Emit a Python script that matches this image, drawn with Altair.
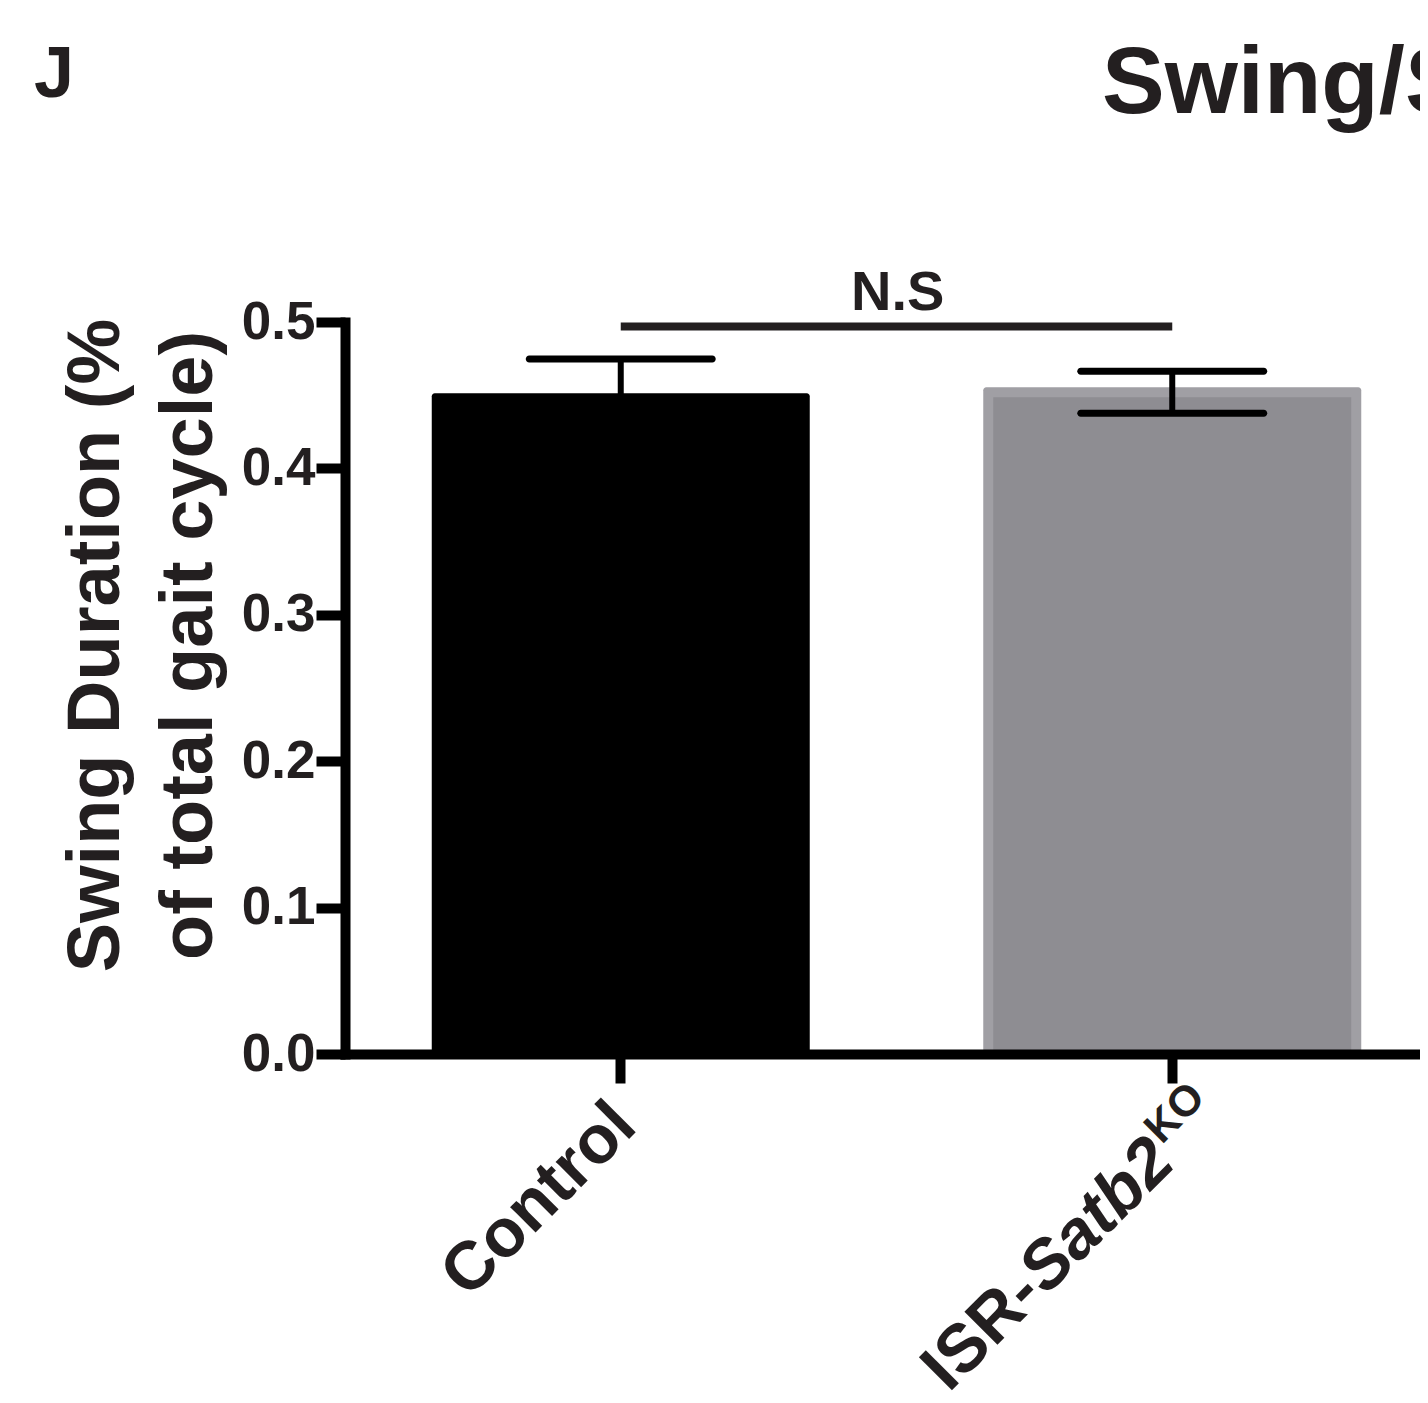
import altair as alt
import pandas as pd

# ---- data ----
groups = ["Control", "ISR-Satb2KO"]
means = [0.448, 0.452]
sems = [0.0267, 0.0143]
fills = ["#000000", "#8e8d92"]
borders = ["#000000", "#a09fa4"]

y_ticks = [0.0, 0.1, 0.2, 0.3, 0.4, 0.5]
sig_pair = ["Control", "ISR-Satb2KO"]
sig_line_y = [0.497]
sig_text_y = [0.508]
sig_label = ["N.S"]

label_control = ["Control"]
label_isr_prefix = ["ISR-"]
label_isr_gene = ["Satb2"]
label_isr_sup = ["KO"]

panel_letter = ["J"]
title_text = ["Swing/Stance"]
y_title = ["Swing Duration (%", "of total gait cycle)"]

FONT = "Liberation Sans"
TXT = "#231f20"

df = pd.DataFrame({"group": groups, "mean": means, "sem": sems,
                   "fill": fills, "border": borders})
df["lo"] = df["mean"] - df["sem"]
df["hi"] = df["mean"] + df["sem"]

sig_df = pd.DataFrame({"x1": [sig_pair[0]], "x2": [sig_pair[1]],
                       "y": sig_line_y, "ty": sig_text_y, "t": sig_label})

x_scale = alt.Scale(domain=groups, range=[0, 1103], paddingInner=0.3, paddingOuter=0.15)
y_scale = alt.Scale(domain=[0, 0.5], nice=False, zero=True)

x_axis = alt.Axis(labels=False, title="", ticks=True, tickSize=29, tickWidth=10,
                  tickColor="black", domainWidth=10, domainColor="black",
                  domainCap="square", grid=False, zindex=1)
y_axis = alt.Axis(values=y_ticks, format=".1f", labelFont=FONT, labelFontSize=53,
                  labelFontWeight="bold", labelColor=TXT, labelPadding=1,
                  tickSize=29, tickWidth=10, tickColor="black",
                  domainWidth=10, domainColor="black", domainCap="square",
                  grid=False, zindex=1,
                  title=y_title, titleFont=FONT, titleFontSize=74,
                  titleFontWeight="bold", titleColor=TXT, titleAngle=270,
                  titleX=-227, titleY=323, titleAlign="center",
                  titleBaseline="alphabetic", titleLineHeight=93)

base = alt.Chart(df)

# outer bar (border colour) and inner bar (fill colour)
bars_outer = base.mark_bar(size=378, cornerRadius=3, yOffset=-5, y2Offset=5).encode(
    x=alt.X("group:N", scale=x_scale, axis=x_axis),
    y=alt.Y("mean:Q", scale=y_scale, axis=y_axis, stack=False),
    fill=alt.Fill("border:N", scale=None),
)
bars_inner = base.mark_bar(size=358, yOffset=5).encode(
    x=alt.X("group:N"),
    y=alt.Y("mean:Q", stack=False),
    fill=alt.Fill("fill:N", scale=None),
)

stems = base.mark_rule(strokeWidth=6, color="black").encode(
    x=alt.X("group:N"), y=alt.Y("lo:Q"), y2="hi")

cap_hi = base.mark_tick(thickness=7, size=190, cornerRadius=3.5,
                        color="black", opacity=1).encode(
    x=alt.X("group:N"), y=alt.Y("hi:Q"))
cap_lo = base.mark_tick(thickness=7, size=190, cornerRadius=3.5,
                        color="black", opacity=1).encode(
    x=alt.X("group:N"), y=alt.Y("lo:Q"))

sig_line = alt.Chart(sig_df).mark_rule(strokeWidth=8, color=TXT).encode(
    x=alt.X("x1:N", bandPosition=0.5), x2="x2", y=alt.Y("y:Q"))

sig_txt = alt.Chart(sig_df).mark_text(font=FONT, fontSize=56, fontWeight="bold",
                                      color=TXT, align="center",
                                      baseline="alphabetic", dx=277).encode(
    x=alt.X("x1:N"), y=alt.Y("ty:Q"), text="t:N")

ctrl_df = pd.DataFrame({"group": [groups[0]], "t": label_control})
isr_df = pd.DataFrame({"group": [groups[1]], "a": label_isr_prefix,
                       "b": label_isr_gene, "c": label_isr_sup})

LBL = 68
lab_ctrl = alt.Chart(ctrl_df).mark_text(font=FONT, fontSize=LBL, fontWeight="bold",
                                        color=TXT, angle=315, align="right",
                                        baseline="alphabetic", dx=-40, dy=66).encode(
    x=alt.X("group:N"), y=alt.datum(0), text="t:N")

lab_isr_b = alt.Chart(isr_df).mark_text(font=FONT, fontSize=LBL, fontWeight="bold",
                                        fontStyle="italic", color=TXT, angle=315,
                                        align="right", baseline="alphabetic",
                                        dx=-75, dy=82).encode(
    x=alt.X("group:N"), y=alt.datum(0), text="b:N")
lab_isr_a = alt.Chart(isr_df).mark_text(font=FONT, fontSize=LBL, fontWeight="bold",
                                        color=TXT, angle=315,
                                        align="right", baseline="alphabetic",
                                        dx=-262, dy=82).encode(
    x=alt.X("group:N"), y=alt.datum(0), text="a:N")
lab_isr_c = alt.Chart(isr_df).mark_text(font=FONT, fontSize=43, fontWeight="bold",
                                        color=TXT, angle=315,
                                        align="left", baseline="alphabetic",
                                        dx=-72, dy=57).encode(
    x=alt.X("group:N"), y=alt.datum(0), text="c:N")

letter = alt.Chart(pd.DataFrame({"t": panel_letter})).mark_text(
    font=FONT, fontSize=72, fontWeight="bold", color=TXT, align="left",
    baseline="alphabetic").encode(x=alt.value(-311), y=alt.value(-225), text="t:N")

title = alt.Chart(pd.DataFrame({"t": title_text})).mark_text(
    font=FONT, fontSize=94, fontWeight="bold", color=TXT, align="left",
    baseline="alphabetic").encode(x=alt.value(757), y=alt.value(-209), text="t:N")

chart = alt.layer(
    bars_outer, bars_inner, stems, cap_hi, cap_lo, sig_line, sig_txt,
    lab_ctrl, lab_isr_a, lab_isr_b, lab_isr_c, letter, title
).properties(
    width=1075, height=732,
    autosize=alt.AutoSizeParams(type="none"),
    padding={"left": 337, "top": 314, "right": 0, "bottom": 341},
    background="white",
).configure_view(strokeWidth=0)

chart.save("out.html", embed_options={"renderer": "svg", "actions": False})
